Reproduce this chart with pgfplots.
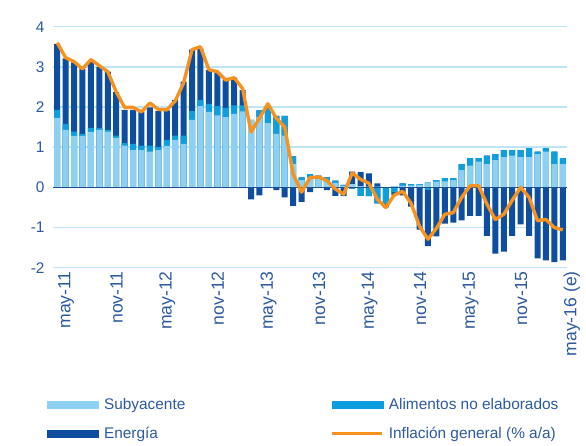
\documentclass[border=0pt]{standalone}
\usepackage{pgfplots}
\pgfplotsset{compat=1.18}
\usepackage{pgfplotstable}
\usepackage{fontspec}
\setmainfont{Liberation Sans}
\definecolor{csub}{HTML}{8ED0F1}
\definecolor{cali}{HTML}{0B9FE0}
\definecolor{cen}{HTML}{0D4EA0}
\definecolor{cinf}{HTML}{F7921E}
\definecolor{cgrid}{HTML}{BEE5F7}
\definecolor{czero}{HTML}{1E4F97}
\definecolor{ctext}{HTML}{2C5AA0}

\pgfplotstableread{
n sub ali en inf
1 1.73 0.20 1.64 3.60
2 1.43 0.15 1.63 3.23
3 1.28 0.11 1.72 3.13
4 1.28 0.05 1.63 2.95
5 1.38 0.10 1.65 3.18
6 1.43 0.05 1.52 3.03
7 1.39 0.04 1.45 2.88
8 1.23 0.06 1.09 2.38
9 1.04 0.06 0.83 1.99
10 0.93 0.15 0.85 1.99
11 0.93 0.11 0.84 1.88
12 0.89 0.15 0.95 2.10
13 0.93 0.07 0.90 1.94
14 1.03 0.15 0.74 1.93
15 1.18 0.11 0.89 2.15
16 1.08 0.21 1.34 2.60
17 1.68 0.22 1.53 3.43
18 2.02 0.16 1.28 3.50
19 1.88 0.20 0.84 2.93
20 1.79 0.23 0.83 2.88
21 1.75 0.23 0.69 2.67
22 1.83 0.21 0.69 2.73
23 1.89 0.15 0.38 2.46
24 1.68 0.00 -0.30 1.38
25 1.75 0.17 -0.20 1.72
26 1.60 0.40 0.05 2.08
27 1.33 0.45 -0.07 1.72
28 1.29 0.49 -0.25 1.50
29 0.58 0.19 -0.46 0.33
30 0.18 0.07 -0.36 -0.12
31 0.25 0.08 -0.12 0.24
32 0.22 0.07 0.00 0.26
33 0.17 0.08 -0.07 0.17
34 0.11 0.06 -0.21 -0.04
35 0.04 0.02 -0.22 -0.17
36 0.08 -0.03 0.31 0.36
37 0.03 -0.21 0.35 0.20
38 0.02 -0.22 0.33 0.10
39 0.02 -0.40 0.08 -0.30
40 0.00 -0.42 -0.08 -0.50
41 0.03 -0.12 -0.08 -0.19
42 0.04 0.06 -0.20 -0.10
43 0.05 0.03 -0.48 -0.40
44 0.06 0.02 -1.05 -0.97
45 0.12 -0.06 -1.40 -1.29
46 0.14 0.04 -1.22 -1.02
47 0.15 0.08 -0.90 -0.67
48 0.18 0.05 -0.88 -0.63
49 0.43 0.15 -0.82 -0.25
50 0.54 0.19 -0.71 0.04
51 0.64 0.09 -0.71 0.04
52 0.58 0.21 -1.21 -0.42
53 0.68 0.15 -1.65 -0.80
54 0.75 0.18 -1.60 -0.67
55 0.79 0.14 -1.21 -0.32
56 0.75 0.18 -0.92 0.00
57 0.75 0.23 -1.21 -0.25
58 0.83 0.06 -1.77 -0.83
59 0.89 0.09 -1.82 -0.80
60 0.58 0.31 -1.86 -1.00
61 0.58 0.15 -1.82 -1.06
}\datatab

\pgfplotsset{
  mybar/.style={ybar, bar width=6pt, bar shift=0pt, draw=none, forget plot},
  barleg/.style={legend image code/.code={\fill[##1, draw=none] (0pt,-3.7pt) rectangle (52pt,3.7pt);}},
  lineleg/.style={legend image code/.code={\draw[##1] (0pt,0pt) -- (50pt,0pt);}},
}

\begin{document}
\begin{tikzpicture}
\useasboundingbox (0,0) rectangle (586pt,445pt);
\begin{axis}[
  at={(53pt,177.3pt)}, anchor=south west,
  scale only axis, width=514pt, height=241pt,
  xmin=0.5, xmax=61.5, ymin=-2, ymax=4,
  ytick={-2,-1,0,1,2,3,4},
  xtick={1,7,13,19,25,31,37,43,49,55,61},
  xticklabels={may-11,nov-11,may-12,nov-12,may-13,nov-13,may-14,nov-14,may-15,nov-15,may-16 (e)},
  /pgf/number format/assume math mode=true,
  axis line style={draw=none},
  major tick length=0pt,
  ymajorgrids, grid style={cgrid, line width=1.5pt},
  yticklabel style={font=\fontsize{15.4}{18}\selectfont, text=ctext, xshift=-5pt},
  xticklabel style={font=\fontsize{17.6}{20}\selectfont, text=ctext, rotate=90, anchor=east, yshift=-9pt},
  legend columns=2,
  legend cell align=left,
  legend style={at={(-0.012,-0.535)}, anchor=north west, draw=none, fill=none,
    font=\fontsize{15.4}{18}\selectfont, text=ctext, inner sep=0pt, row sep=12pt,
    /tikz/every odd column/.append style={column sep=3pt},
    /tikz/every even column/.append style={column sep=143pt}},
  clip=false,
]
\addplot[mybar, fill=cen] table[x=n, y expr={max(\thisrow{sub},0)+max(\thisrow{ali},0)+max(\thisrow{en},0)}] {\datatab};
\addplot[mybar, fill=cali] table[x=n, y expr={max(\thisrow{sub},0)+max(\thisrow{ali},0)}] {\datatab};
\addplot[mybar, fill=csub] table[x=n, y expr={max(\thisrow{sub},0)}] {\datatab};
\addplot[mybar, fill=cen] table[x=n, y expr={min(\thisrow{sub},0)+min(\thisrow{ali},0)+min(\thisrow{en},0)}] {\datatab};
\addplot[mybar, fill=cali] table[x=n, y expr={min(\thisrow{sub},0)+min(\thisrow{ali},0)}] {\datatab};
\addplot[mybar, fill=csub] table[x=n, y expr={min(\thisrow{sub},0)}] {\datatab};
\draw[czero, line width=1.5pt] (axis cs:0.5,0) -- (axis cs:61.5,0);
\addplot[cinf, line width=3.4pt, line join=round, mark=none, sharp plot, forget plot] table[x=n, y=inf] {\datatab};
\addlegendimage{barleg, fill=csub, draw=none}
\addlegendentry{Subyacente}
\addlegendimage{barleg, fill=cali, draw=none}
\addlegendentry{Alimentos no elaborados}
\addlegendimage{barleg, fill=cen, draw=none}
\addlegendentry{Energía}
\addlegendimage{lineleg, draw=cinf, line width=3pt}
\addlegendentry{Inflación general (\% a/a)}
\end{axis}
\end{tikzpicture}
\end{document}
